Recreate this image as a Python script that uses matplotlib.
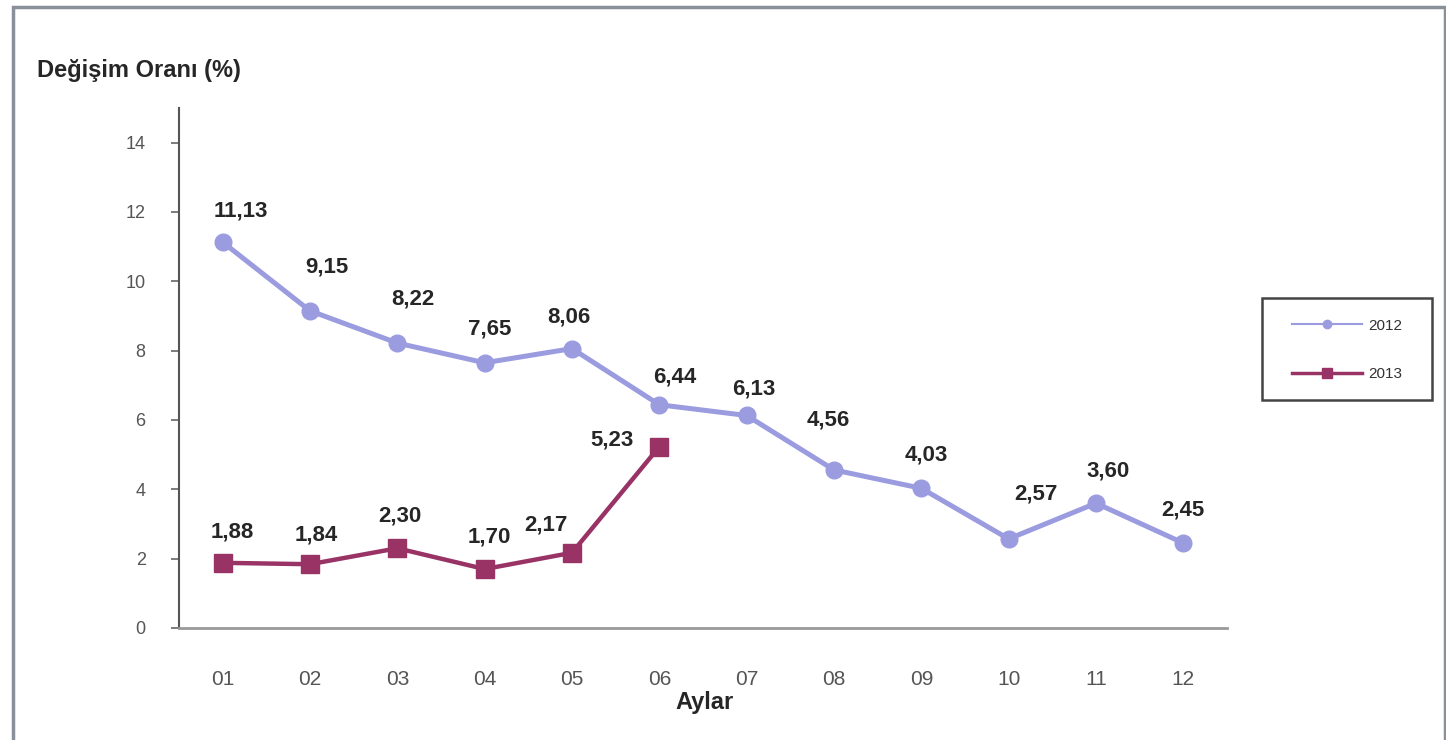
import matplotlib
matplotlib.use("Agg")
import matplotlib.pyplot as plt
from matplotlib.patches import Rectangle
from matplotlib.lines import Line2D

months = ["01", "02", "03", "04", "05", "06", "07", "08", "09", "10", "11", "12"]
values_2012 = [11.13, 9.15, 8.22, 7.65, 8.06, 6.44, 6.13, 4.56, 4.03, 2.57, 3.60, 2.45]
values_2013 = [1.88, 1.84, 2.30, 1.70, 2.17, 5.23]
series_names = ["2012", "2013"]
y_ticks = [0, 2, 4, 6, 8, 10, 12, 14]

# label offsets in pixels (style only)
off_2012 = [(18, 31), (17, 44), (16, 44), (5, 34), (-3, 32), (15, 28),
            (7, 26), (-6, 50), (5, 33), (27, 45), (12, 32), (0, 33)]
off_2013 = [(10, 31), (6, 29), (3, 32), (5, 32), (-26, 28), (-47, 7)]

plt.rcParams['font.family'] = ['Liberation Sans', 'DejaVu Sans']

W, H = 1446, 740
fig = plt.figure(figsize=(W / 100, H / 100), dpi=100)
fig.patch.set_facecolor("white")

# outer frame
fig.patches.append(Rectangle((13 / W, -0.05), (1445 - 13) / W, 1.05 - 7 / H,
                             transform=fig.transFigure, fill=False,
                             edgecolor="#8a9099", linewidth=2.5))

ax = fig.add_axes([179 / W, 1 - 628 / H, (1227 - 179) / W, (628 - 108) / H])
x = list(range(len(months)))

c12 = "#9b9be0"
c13 = "#993366"
ax.plot(x, values_2012, color=c12, lw=3.6, marker="o", ms=12,
        label=series_names[0], zorder=3)
ax.plot(x[:len(values_2013)], values_2013, color=c13, lw=3.2, marker="s",
        ms=13, label=series_names[1], zorder=4)


def fmt(v):
    return f"{v:.2f}".replace(".", ",")


for i, v in enumerate(values_2012):
    ax.annotate(fmt(v), (x[i], v), xytext=off_2012[i], textcoords="offset pixels",
                ha="center", va="center", fontsize=16, fontweight="bold", color="#262626")
for i, v in enumerate(values_2013):
    ax.annotate(fmt(v), (x[i], v), xytext=off_2013[i], textcoords="offset pixels",
                ha="center", va="center", fontsize=16, fontweight="bold", color="#262626")

ax.set_xlim(-0.5, 11.5)
ax.set_ylim(0, 15)
ax.set_yticks(y_ticks)
ax.set_xticks(x)
ax.set_xticklabels(months)
ax.tick_params(axis="y", length=6, width=1.2, color="#666666", labelsize=13,
               labelcolor="#555555", pad=18)
ax.tick_params(axis="x", length=0, labelsize=15, labelcolor="#555555", pad=30)
for s in ["top", "right"]:
    ax.spines[s].set_visible(False)
ax.spines["left"].set_color("#555555")
ax.spines["left"].set_linewidth(1.5)
ax.spines["bottom"].set_color("#999999")
ax.spines["bottom"].set_linewidth(2)

fig.text(37 / W, 1 - 70 / H, "Değişim Oranı (%)", fontsize=17, fontweight="bold",
         color="#262626", ha="left", va="center")
fig.text(705 / W, 1 - 703 / H, "Aylar", fontsize=17, fontweight="bold",
         color="#262626", ha="center", va="center")

# legend box
fig.patches.append(Rectangle((1262 / W, 1 - 400 / H), (1432 - 1262) / W, (400 - 298) / H,
                             transform=fig.transFigure, fill=False,
                             edgecolor="#444444", linewidth=1.8))
h1 = Line2D([], [], color=c12, lw=1.5, marker="o", ms=6)
h2 = Line2D([], [], color=c13, lw=2.5, marker="s", ms=7)
leg = fig.legend([h1, h2], series_names, loc="center",
                 bbox_to_anchor=((1262 + 1432) / 2 / W, 1 - 350 / H),
                 fontsize=11, frameon=False,
                 handlelength=4.6, labelspacing=2.25, borderpad=0,
                 handletextpad=0.35, borderaxespad=0)
for t in leg.get_texts():
    t.set_color("#333333")

fig.savefig("out.png", dpi=100, facecolor="white")
